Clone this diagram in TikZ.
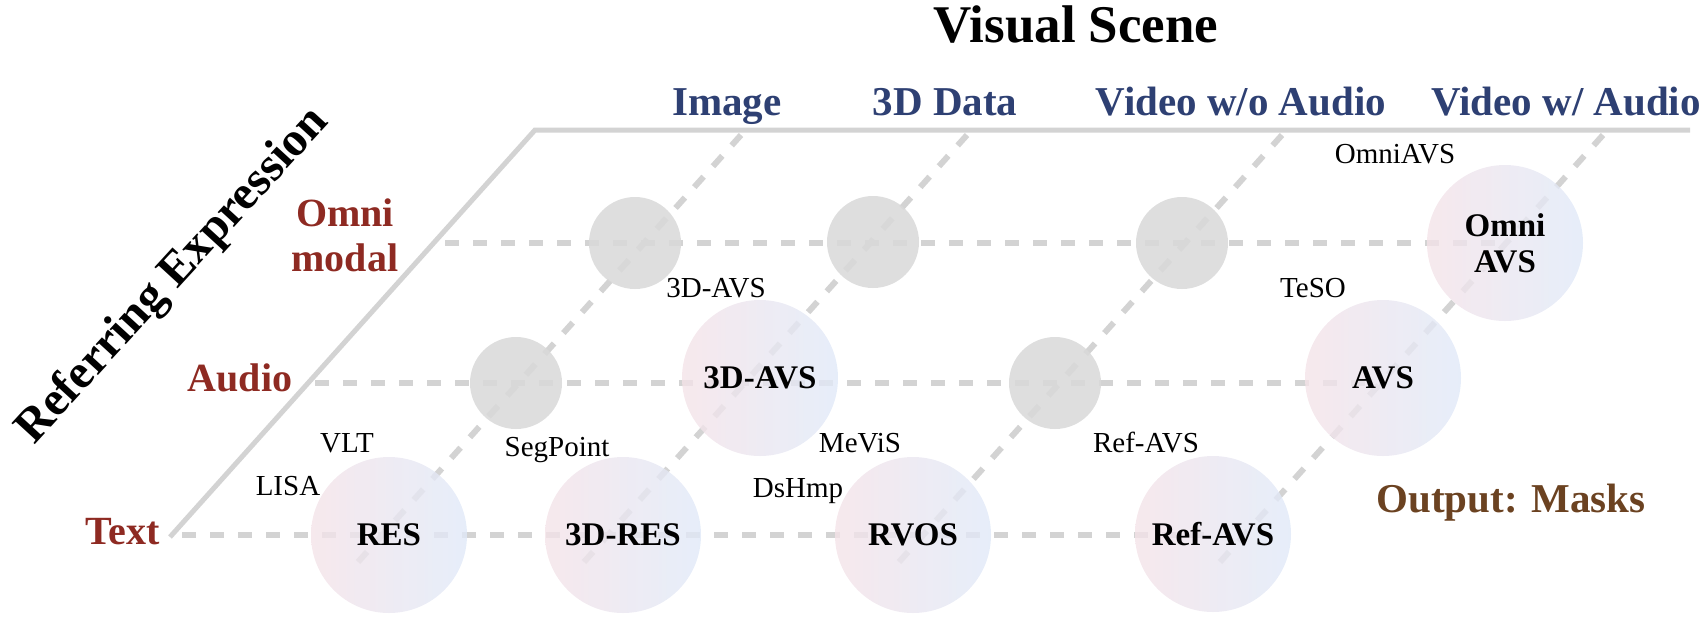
\documentclass[tikz,border=0pt]{standalone}
\usepackage{fontspec}
\setmainfont{Liberation Serif}
\definecolor{headblue}{HTML}{2E4073}
\definecolor{rowred}{HTML}{8E2A22}
\definecolor{maskbrown}{HTML}{6B4221}
\definecolor{gridgray}{HTML}{D3D3D3}
\definecolor{dotgray}{HTML}{D9D9D9}
\definecolor{taskpink}{HTML}{F4E3E8}
\definecolor{taskblue}{HTML}{E0E9F8}
\pgfdeclarelayer{grid}
\pgfsetlayers{grid,main}
\begin{document}
\begin{tikzpicture}[x=0.5pt,y=-0.5pt,
  frame/.style={draw=gridgray, line width=2.5pt, line join=miter},
  guide/.style={draw=gridgray, line width=3pt, dash pattern=on 7pt off 7pt},
  taskbig/.style={circle, minimum size=78pt, inner sep=0pt, left color=taskpink, right color=taskblue,
    fill opacity=0.8, text opacity=1, font=\fontsize{16.5pt}{19pt}\selectfont\bfseries, align=center},
  emptycell/.style={circle, minimum size=46pt, inner sep=0pt, fill=dotgray, fill opacity=0.88},
  colhead/.style={anchor=base, text=headblue, font=\fontsize{20.5pt}{24pt}\selectfont\bfseries},
  rowhead/.style={text=rowred, font=\fontsize{20pt}{22.5pt}\selectfont\bfseries, align=center},
  work/.style={anchor=base, font=\fontsize{14.5pt}{17pt}\selectfont}]
\useasboundingbox (0,0) rectangle (1704,617);

% titles
\node[anchor=base, font=\fontsize{26.5pt}{30pt}\selectfont\bfseries] (vis) at (1076,42) {Visual Scene};
\node[anchor=base, rotate=47.5, font=\fontsize{24pt}{28pt}\selectfont\bfseries] (ref) at (182,284) {Referring Expression};

% column headers
\node[colhead] (hImg) at (727,115) {Image};
\node[colhead] (h3d) at (945,115) {3D Data};
\node[colhead] (hVid) at (1241,115) {Video w/o Audio};
\node[colhead] (hAv) at (1566,115) {Video w/ Audio};

% row headers
\node[rowhead] (rOmni) at (345,235) {Omni\\modal};
\node[rowhead] (rAudio) at (240,378) {Audio};
\node[rowhead] (rText) at (123,532) {Text};

% grid cells: tasks and empty slots
\node[emptycell] (e31) at (635,243) {};
\node[emptycell] (e32) at (873,242) {};
\node[emptycell] (e33) at (1182,243) {};
\node[taskbig] (omniavs) at (1505,243) {Omni\\[-1pt]AVS};

\node[emptycell] (e21) at (516,383) {};
\node[taskbig] (avs3d) at (760,378) {3D-AVS};
\node[emptycell] (e23) at (1055,383) {};
\node[taskbig] (avs) at (1383,378) {AVS};

\node[taskbig] (res) at (389,535) {RES};
\node[taskbig] (res3d) at (623,535) {3D-RES};
\node[taskbig] (rvos) at (913,535) {RVOS};
\node[taskbig] (refavs) at (1213,534) {Ref-AVS};

% frame and guide lines
\coordinate (tl) at (535,130);
\coordinate (tr) at (1690,130);
\coordinate (bl) at (170,537);
\coordinate (r3s) at (445,243);
\coordinate (r2s) at (315,383);
\coordinate (r1s) at (182,535);
\coordinate (c1t) at (741,135);
\coordinate (c2t) at (967,135);
\coordinate (c3t) at (1282,135);
\coordinate (c4t) at (1603,135);
\coordinate (c1b) at (358,562);
\coordinate (c2b) at (584,562);
\coordinate (c3b) at (899,562);
\coordinate (c4b) at (1220,562);
\begin{pgfonlayer}{grid}
  \draw[frame] (bl) -- (tl) -- (tr);
  \draw[guide] (r3s) -- (omniavs.center |- r3s);
  \draw[guide] (r2s) -- (avs.center |- r2s);
  \draw[guide] (r1s) -- (refavs.center |- r1s);
  \draw[guide] (c1t) -- (c1b);
  \draw[guide] (c2t) -- (c2b);
  \draw[guide] (c3t) -- (c3b);
  \draw[guide] (c4t) -- (c4b);
\end{pgfonlayer}

% representative works
\node[work] (wOmni) at (1395,163) {OmniAVS};
\node[work] (wTeso) at (1313,297) {TeSO};
\node[work] (w3dAvs) at (716,297) {3D-AVS};
\node[work] (wVlt) at (347,452) {VLT};
\node[work] (wLisa) at (288,495) {LISA};
\node[work] (wSeg) at (557,456) {SegPoint};
\node[work] (wMevis) at (860,452) {MeViS};
\node[work] (wDs) at (798,497) {DsHmp};
\node[work] (wRefAvs) at (1146,452) {Ref-AVS};

% output note
\node[anchor=base, text=maskbrown, font=\fontsize{20.5pt}{24pt}\selectfont\bfseries] (out) at (1511,512) {Output: Masks};
\end{tikzpicture}
\end{document}
